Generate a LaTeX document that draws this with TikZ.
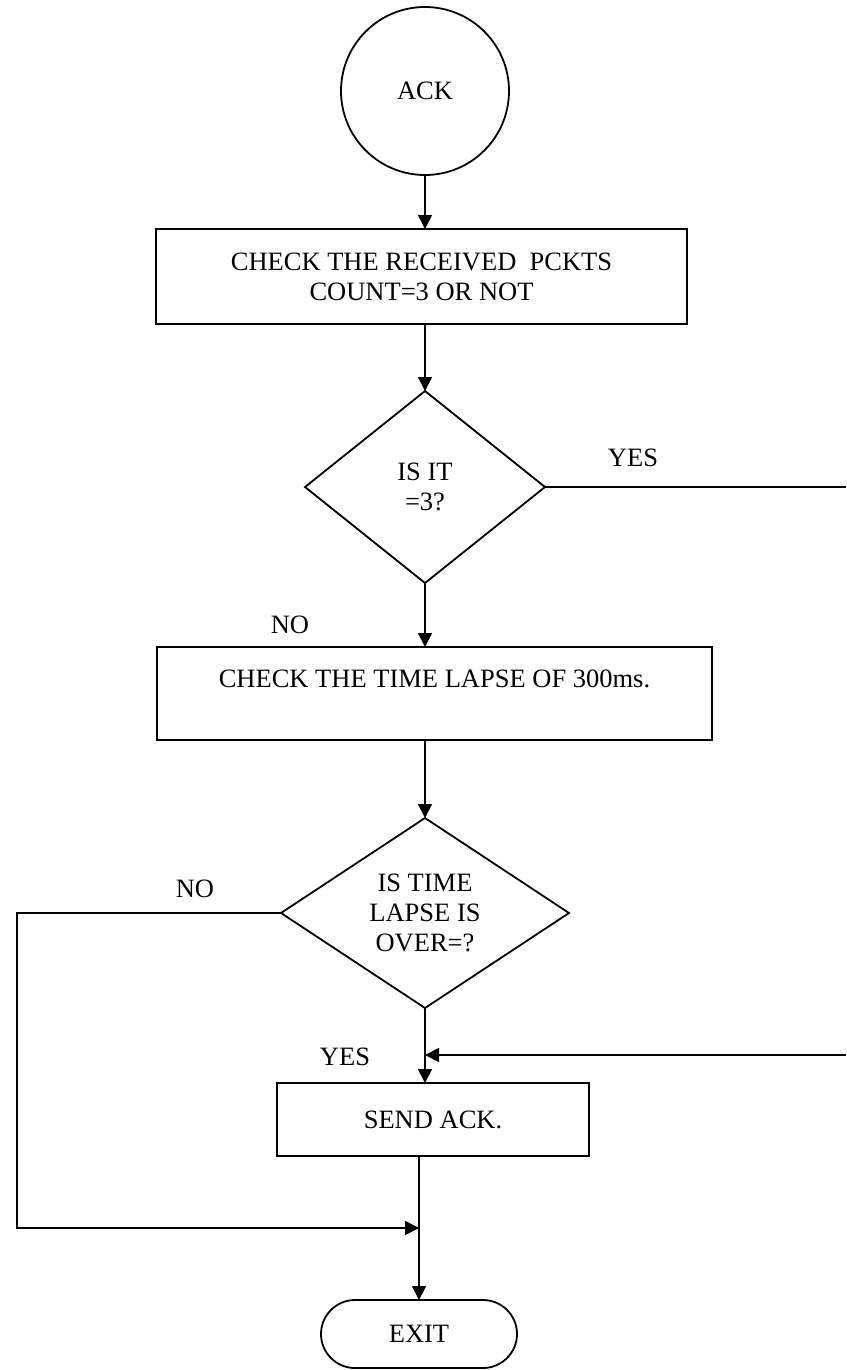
\documentclass[tikz,border=0pt]{standalone}
\usepackage{fontspec}
\setmainfont{Liberation Serif}
\usetikzlibrary{positioning, arrows.meta, shapes.geometric}

\begin{document}
\begin{tikzpicture}[
		x=1pt, y=1pt,
		>={Triangle[length=14pt, width=14pt]}, % Arrow style
		line width=1.8pt,
		every node/.style={font=\fontsize{26.5}{30}\selectfont, align=center, outer sep=0pt},
		block/.style={draw, rectangle, inner sep=0pt},
		decision/.style={draw, diamond, aspect=1.5, inner sep=0pt},
		terminal/.style={draw, rectangle, rounded corners=34pt, inner sep=0pt, minimum width=196pt, minimum height=68pt}
	]

	\useasboundingbox (0,0) rectangle (846,-1370);

	% Start node
	\node[draw, circle, minimum size=168pt, inner sep=0pt] (ack) at (425,-91) {ACK};

	% Check the count
	\node[block, below=54pt of ack, xshift=-3.5pt, minimum width=531pt, minimum height=95pt] (check) {CHECK THE RECEIVED\ \ PCKTS\\COUNT=3 OR NOT};
	\node[decision, below=67pt of check, xshift=3.5pt, minimum width=240pt, minimum height=192pt] (isthree) {IS IT\\=3?};

	% Check the time lapse
	\node[block, below=64pt of isthree, xshift=9.5pt, minimum width=555pt, minimum height=93pt] (timelapse) {CHECK THE TIME LAPSE OF 300ms.\\ ~};
	\node[decision, below=78pt of timelapse, xshift=-9.5pt, minimum width=288pt, minimum height=190pt] (islapse) {IS TIME\\LAPSE IS\\OVER=?};

	% Send and exit
	\node[block, below=75pt of islapse, xshift=8pt, minimum width=312pt, minimum height=73pt] (sendack) {SEND ACK.};
	\node[terminal, below=144pt of sendack, xshift=-14pt] (exitnode) {EXIT};

	% Free ends of the connectors
	\coordinate (yesend) at (846,-487);
	\coordinate (yesstart) at (846,-1055);
	\coordinate (noturn) at (17,-1228);
	\coordinate (nojoin) at (419,-1228);

	% Main flow
	\draw[->] (ack.south) -- (ack.south |- check.north);
	\draw[->] (ack.south |- check.south) -- (isthree.north);
	\draw[->] (isthree.south) -- (isthree.south |- timelapse.north);
	\draw[->] (isthree.south |- timelapse.south) -- (islapse.north);
	\draw[->] (islapse.south) -- (islapse.south |- sendack.north);
	\draw[->] (sendack.south -| exitnode.north) -- (exitnode.north);

	% Branches
	\draw (isthree.east) -- (yesend);
	\draw[->] (yesstart) -- (yesstart -| islapse.south);
	\draw[->] (islapse.west) -| (noturn) -- (nojoin);

	% Labels
	\node (yestop) at (633,-458) {YES};
	\node (notop) at (290,-625) {NO};
	\node (noleft) at (195,-889) {NO};
	\node (yesbottom) at (345,-1057) {YES};

\end{tikzpicture}
\end{document}
